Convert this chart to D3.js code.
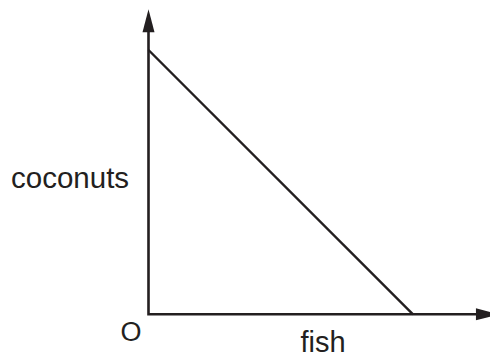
<!DOCTYPE html>
<html>
<head>
<meta charset="utf-8">
<script src="https://cdn.jsdelivr.net/npm/d3@7"></script>
<style>
  html, body { margin: 0; padding: 0; background: #fff; }
  svg { display: block; }
  text { font-family: "Liberation Sans", Arial, Helvetica, sans-serif; fill: #231f20; }
</style>
</head>
<body>
<svg id="chart" width="490" height="357"></svg>
<script>
// Production possibility frontier: coconuts vs fish
const fishValues = [0, 100];          // fish produced
const coconutValues = [100, 0];       // coconuts produced
const axisExtent = { fish: 132.5, coconuts: 115.4 }; // arrow tips, in data units
const labels = { x: "fish", y: "coconuts", origin: "O" };

const svg = d3.select("#chart");
const ink = "#231f20";

const x = d3.scaleLinear().domain([0, 100]).range([148.5, 413]);
const y = d3.scaleLinear().domain([0, 100]).range([314.3, 50]);

const arrowLen = 23, arrowHalf = 6;

// axes (polyline through origin)
svg.append("path")
  .attr("d", d3.line()([
    [x(0), y(axisExtent.coconuts) + arrowLen - 1],
    [x(0), y(0)],
    [x(axisExtent.fish) - arrowLen + 1, y(0)]
  ]))
  .attr("fill", "none")
  .attr("stroke", ink)
  .attr("stroke-width", 2.6)
  .attr("stroke-linejoin", "miter")
  .attr("stroke-linecap", "square");

// arrowheads
const yt = [x(0), y(axisExtent.coconuts)];
svg.append("path")
  .attr("d", `M${yt[0]},${yt[1]} L${yt[0] + arrowHalf},${yt[1] + arrowLen} L${yt[0] - arrowHalf},${yt[1] + arrowLen} Z`)
  .attr("fill", ink);
const xt = [x(axisExtent.fish), y(0)];
svg.append("path")
  .attr("d", `M${xt[0]},${xt[1]} L${xt[0] - arrowLen},${xt[1] - arrowHalf} L${xt[0] - arrowLen},${xt[1] + arrowHalf} Z`)
  .attr("fill", ink);

// frontier line
svg.append("path")
  .datum(fishValues.map((f, i) => [f, coconutValues[i]]))
  .attr("d", d3.line().x(d => x(d[0])).y(d => y(d[1])))
  .attr("fill", "none")
  .attr("stroke", ink)
  .attr("stroke-width", 2.4);

// labels
svg.append("text").attr("x", 11).attr("y", 187.5).attr("font-size", 29.5).text(labels.y);
svg.append("text").attr("x", 120.5).attr("y", 341).attr("font-size", 27).text(labels.origin);
svg.append("text").attr("x", 300.5).attr("y", 351.7).attr("font-size", 29).text(labels.x);
</script>
</body>
</html>
